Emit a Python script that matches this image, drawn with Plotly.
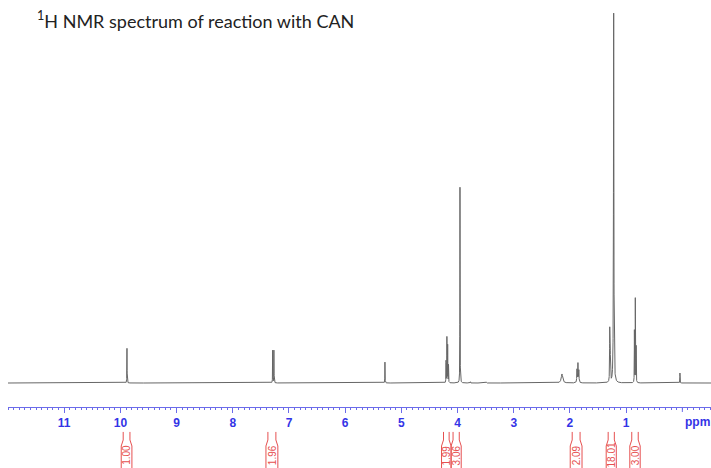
import numpy as np
import plotly.graph_objects as go

# ---- data ----
# peak list: chemical shift (ppm), height (arbitrary units), line width (ppm FWHM)
peak_ppm    = [9.883, 7.290, 7.268, 5.292, 4.205, 4.190, 4.176, 4.161, 3.957, 3.77, 3.49,
               2.142, 1.875, 1.858, 1.842, 1.292, 1.284, 1.222, 0.853, 0.837, 0.822, 0.043]
peak_height = [35, 33, 33, 21, 22, 46, 38, 18, 196, 1.2, 1.0,
               9, 13, 19, 12, 50, 40, 370, 52, 84, 36, 10]
peak_width  = [0.004, 0.004, 0.004, 0.004, 0.004, 0.004, 0.004, 0.004, 0.004, 0.004, 0.004,
               0.03, 0.008, 0.008, 0.008, 0.006, 0.006, 0.008, 0.004, 0.004, 0.004, 0.004]

# integrals: start ppm, end ppm, value
integral_start = [9.95, 7.375, 4.25, 4.08, 1.96, 1.32, 0.90]
integral_end   = [9.83, 7.233, 4.15, 3.97, 1.82, 1.21, 0.785]
integral_value = ["1.00", "1.96", "1.99", "3.06", "2.09", "18.01", "3.00"]

tick_vals = [1, 2, 3, 4, 5, 6, 7, 8, 9, 10, 11]
tick_text = ["1", "2", "3", "4", "5", "6", "7", "8", "9", "10", "11"]

title_text = "<sup>1</sup>H NMR spectrum of reaction with CAN"

# ---- build spectrum from the peak list (Lorentzian lines) ----
ppm = np.linspace(12.0, -0.51, 25001)
inten = np.zeros_like(ppm)
for c, h, w in zip(peak_ppm, peak_height, peak_width):
    g = w / 2.0
    inten += h * g**2 / ((ppm - c) ** 2 + g**2)

fig = go.Figure()
fig.add_trace(go.Scatter(x=ppm, y=inten, mode="lines",
                         line=dict(color="#666666", width=1), hoverinfo="skip"))

BLUE = "#3434e6"
AXIS_BLUE = "#6b6bea"
RED = "#e65050"

# major tick at 0 ppm (unlabelled)
fig.add_shape(type="line", x0=0, x1=0, y0=0, y1=-0.0124, xref="x", yref="paper",
              line=dict(color=AXIS_BLUE, width=1))

# integral brackets and labels
y_top, y_kink1, y_kink2, y_bot = -0.062, -0.082, -0.097, -0.16
flare = 0.035
for s, e, v in zip(integral_start, integral_end, integral_value):
    for xa, sign in ((s, 1), (e, -1)):
        path = (f"M {xa} {y_top} L {xa} {y_kink1} L {xa + sign*flare} {y_kink2} "
                f"L {xa + sign*flare} {y_bot}")
        fig.add_shape(type="path", path=path, xref="x", yref="paper",
                      line=dict(color=RED, width=1))
    fig.add_annotation(x=(s + e) / 2, y=-0.12, xref="x", yref="paper",
                       text=v, textangle=-90, showarrow=False,
                       font=dict(family="Liberation Sans, Arial", size=10, color=RED),
                       xanchor="center", yanchor="middle")

# title
fig.add_annotation(x=0.0384, y=0.963, xref="paper", yref="paper", text=title_text,
                   showarrow=False, xanchor="left", yanchor="middle",
                   font=dict(family="Lato, Open Sans", size=18, color="#222222"))
# ppm unit label
fig.add_annotation(x=0.9815, y=-0.037, xref="paper", yref="paper", text="ppm",
                   showarrow=False, xanchor="center", yanchor="middle",
                   font=dict(family="Liberation Sans, Arial", size=12, color=BLUE,
                             weight="bold"))

fig.update_xaxes(range=[12.0, -0.51], tickvals=tick_vals, ticktext=tick_text,
                 ticks="outside", ticklen=5, tickwidth=1, tickcolor=AXIS_BLUE,
                 showline=True, linecolor=AXIS_BLUE, linewidth=1,
                 showgrid=False, zeroline=False,
                 tickfont=dict(family="Liberation Sans, Arial", size=12, color=BLUE,
                               weight="bold"),
                 minor=dict(dtick=0.1, tick0=0, ticks="outside", ticklen=2,
                            tickcolor=AXIS_BLUE, showgrid=False))
fig.update_yaxes(range=[-24, 378], visible=False, showgrid=False, zeroline=False)

fig.update_layout(width=711, height=468,
                  margin=dict(l=8, r=0, t=5, b=61),
                  paper_bgcolor="white", plot_bgcolor="white",
                  showlegend=False)

fig.write_html("out.html", config={"displayModeBar": False},
               post_script="document.body.style.margin='0';")
